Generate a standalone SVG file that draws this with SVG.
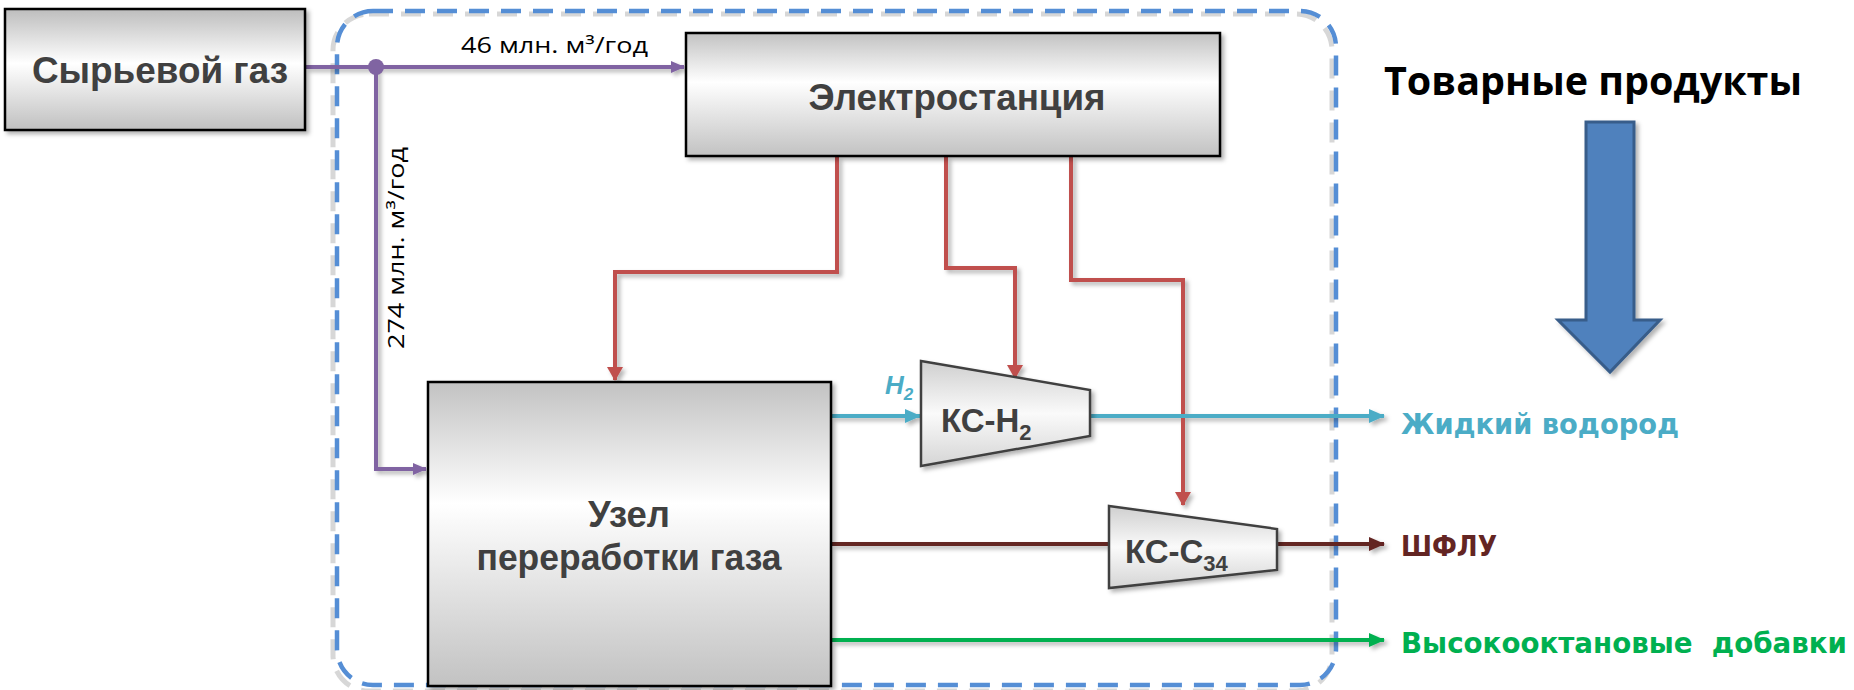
<svg xmlns="http://www.w3.org/2000/svg" width="1854" height="690" viewBox="0 0 1854 690">
<style>
.box{stroke:#000;stroke-width:2.5}
.btxt{font-family:"Liberation Sans",Arial,sans-serif;font-weight:bold;fill:#404040;text-anchor:middle;font-size:36px}
.lbl{font-family:"Open Sans","Liberation Sans",sans-serif;fill:#000;font-size:21px}
.prod{font-family:"DejaVu Sans",Verdana,sans-serif;font-weight:bold;font-size:29px}
.con{fill:none;stroke-width:4}
.trap{stroke:#404040;stroke-width:2.5}
.ks{font-family:"Liberation Sans",Arial,sans-serif;font-weight:bold;font-size:33px;fill:#404040}
</style>
<defs>
<linearGradient id="g1" x1="0" y1="0" x2="0" y2="1">
<stop offset="0" stop-color="#bdbdbd"/><stop offset="0.45" stop-color="#ffffff"/><stop offset="1" stop-color="#c0c0c0"/>
</linearGradient>
<linearGradient id="g2" x1="0" y1="0" x2="0" y2="1">
<stop offset="0" stop-color="#c2c2c2"/><stop offset="0.4" stop-color="#ffffff"/><stop offset="1" stop-color="#c2c2c2"/>
</linearGradient>
<linearGradient id="g3" x1="0" y1="0" x2="0" y2="1">
<stop offset="0" stop-color="#cfcfcf"/><stop offset="0.5" stop-color="#fafafa"/><stop offset="1" stop-color="#d5d5d5"/>
</linearGradient>
<filter id="sh" x="-10%" y="-10%" width="130%" height="130%">
<feDropShadow dx="3" dy="3" stdDeviation="2" flood-color="#000" flood-opacity="0.3"/>
</filter>
<marker id="aP" markerWidth="14" markerHeight="12" refX="13" refY="6" orient="auto" markerUnits="userSpaceOnUse"><path d="M0,0 L14,6 L0,12 Z" fill="#8064A2"/></marker>
<marker id="aR" markerWidth="14" markerHeight="16" refX="13" refY="8" orient="auto" markerUnits="userSpaceOnUse"><path d="M0,0 L14,8 L0,16 Z" fill="#C0504D"/></marker>
<marker id="aC" markerWidth="16" markerHeight="14" refX="15" refY="7" orient="auto" markerUnits="userSpaceOnUse"><path d="M0,0 L16,7 L0,14 Z" fill="#4BACC6"/></marker>
<marker id="aD" markerWidth="16" markerHeight="14" refX="15" refY="7" orient="auto" markerUnits="userSpaceOnUse"><path d="M0,0 L16,7 L0,14 Z" fill="#632523"/></marker>
<marker id="aG" markerWidth="16" markerHeight="14" refX="15" refY="7" orient="auto" markerUnits="userSpaceOnUse"><path d="M0,0 L16,7 L0,14 Z" fill="#00B050"/></marker>
</defs>
<rect width="1854" height="690" fill="#ffffff"/>

<g id="boundary">
<rect x="337" y="11" width="999" height="677" rx="36" fill="none" stroke="#9a9a9a" stroke-width="5" stroke-dasharray="20 12" opacity="0.4" transform="translate(-4,3)"/>
<rect x="337" y="11" width="999" height="674" rx="36" fill="none" stroke="#558ED5" stroke-width="4.5" stroke-dasharray="20 12"/>
</g>

<g id="connectors">
<g filter="url(#sh)">
<path class="con" stroke="#8064A2" d="M306,67 H684" marker-end="url(#aP)"/>
<path class="con" stroke="#8064A2" d="M376,67 V469 H426" marker-end="url(#aP)"/>
<path class="con" stroke="#C0504D" d="M837,157 V272 H615 V380" marker-end="url(#aR)"/>
<path class="con" stroke="#C0504D" d="M946,157 V268 H1015 V378" marker-end="url(#aR)"/>
<path class="con" stroke="#C0504D" d="M1071,157 V280 H1183 V505" marker-end="url(#aR)"/>
<path class="con" stroke="#4BACC6" d="M832,416 H920" marker-end="url(#aC)"/>
<path class="con" stroke="#4BACC6" d="M1091,416 H1384" marker-end="url(#aC)"/>
<path class="con" stroke="#632523" d="M832,544 H1110"/>
<path class="con" stroke="#632523" d="M1277,544 H1384" marker-end="url(#aD)"/>
<path class="con" stroke="#00B050" d="M832,640 H1384" marker-end="url(#aG)"/>
</g>
<circle cx="376" cy="67" r="8" fill="#8064A2"/>
<text class="lbl" x="461" y="53" textLength="187" lengthAdjust="spacingAndGlyphs">46 млн. м³/год</text>
<text class="lbl" transform="translate(404,248) rotate(-90)" text-anchor="middle" font-size="22" textLength="202" lengthAdjust="spacingAndGlyphs">274 млн. м³/год</text>
<text x="885" y="394" font-family="'Liberation Sans',Arial,sans-serif" font-weight="bold" font-style="italic" font-size="26" fill="#4BACC6">H<tspan font-size="17" dy="6">2</tspan></text>
</g>

<g id="syrievoy-gaz">
<rect class="box" x="5" y="9" width="300" height="121" fill="url(#g1)" filter="url(#sh)"/>
<text class="btxt" x="160" y="83" textLength="256" lengthAdjust="spacingAndGlyphs">Сырьевой газ</text>
</g>

<g id="elektrostantsiya">
<rect class="box" x="686" y="33" width="534" height="123" fill="url(#g2)" filter="url(#sh)"/>
<text class="btxt" x="957" y="110" textLength="297" lengthAdjust="spacingAndGlyphs">Электростанция</text>
</g>

<g id="uzel">
<rect class="box" x="428" y="382" width="403" height="304" fill="url(#g2)" filter="url(#sh)"/>
<text class="btxt" x="629" y="527" textLength="82" lengthAdjust="spacingAndGlyphs">Узел</text>
<text class="btxt" x="629" y="570" textLength="305" lengthAdjust="spacingAndGlyphs">переработки газа</text>
</g>

<g id="ks-h2">
<path class="trap" d="M921,361 L1090,390 L1090,436 L921,466 Z" fill="url(#g3)" filter="url(#sh)"/>
<text class="ks" x="941" y="432">КС-H<tspan font-size="22" dy="8">2</tspan></text>
</g>

<g id="ks-c34">
<path class="trap" d="M1109,506 L1277,529 L1277,570 L1109,588 Z" fill="url(#g3)" filter="url(#sh)"/>
<text class="ks" x="1125" y="563">КС-C<tspan font-size="22" dy="8">34</tspan></text>
</g>

<g id="tovarnye">
<text x="1384" y="95" font-family="'Open Sans','Liberation Sans',sans-serif" font-weight="bold" font-size="39" fill="#000" textLength="418" lengthAdjust="spacingAndGlyphs">Товарные продукты</text>
<path d="M1586,122 H1634 V320 H1660 L1610,372 L1558,320 H1586 Z" fill="#4F81BD" stroke="#385D8A" stroke-width="3" filter="url(#sh)"/>
</g>

<g id="products">
<text class="prod" x="1401" y="434" fill="#4BACC6" textLength="278" lengthAdjust="spacingAndGlyphs">Жидкий водород</text>
<text class="prod" x="1401" y="556" fill="#632523" textLength="96" lengthAdjust="spacingAndGlyphs">ШФЛУ</text>
<text class="prod" x="1401" y="653" fill="#00B050" textLength="446" lengthAdjust="spacingAndGlyphs">Высокооктановые&#160; добавки</text>
</g>
</svg>
